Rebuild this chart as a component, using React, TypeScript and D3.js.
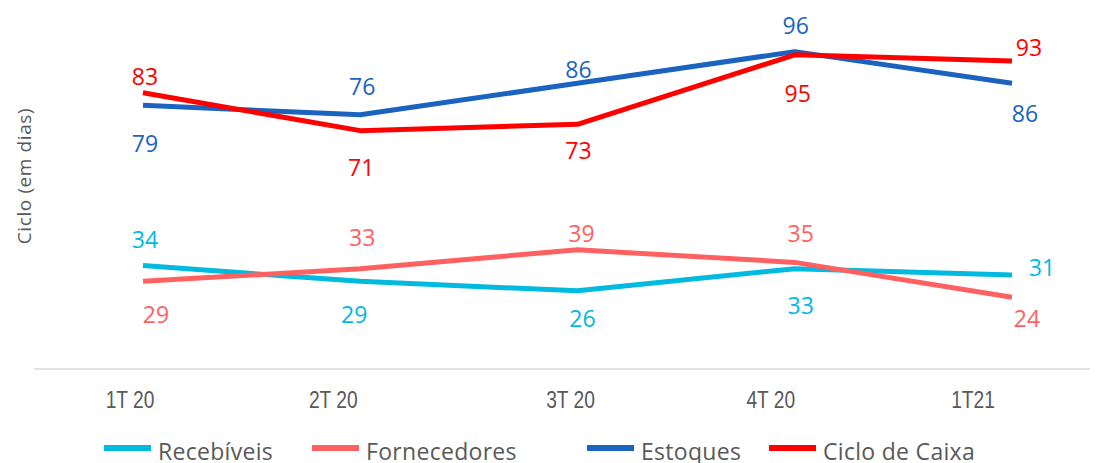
import { useEffect, useRef } from "react";
import * as d3 from "d3";

const W = 1109;
const H = 463;

const categories = ["1T 20", "2T 20", "3T 20", "4T 20", "1T21"];
const recebiveis   = [34, 29, 26, 33, 31];
const fornecedores = [29, 33, 39, 35, 24];
const estoques     = [79, 76, 86, 96, 86];
const cicloCaixa   = [83, 71, 73, 95, 93];

// label nudges (px) relative to each point
const recDx  = [2, -6, 5, 6, 30];
const recDy  = [-18, 42, 36, 45, 1];
const fornDx = [13, 2, 4, 6, 15];
const fornDy = [42, -23, -8, -20, 30];
const estDx  = [2, 2, 1, 1, 13];
const estDy  = [47, -20, -5, -18, 39];
const cicDx  = [2, 1, 1, 3, 17];
const cicDy  = [-8, 45, 35, 47, -5];
const tickDx = [-13, -27, -7, -24, -39];

const FONT = "'Open Sans', 'Segoe UI', sans-serif";
const TICK_FONT = "'Liberation Sans', Arial, sans-serif";
const GREY = "#595959";

export default function App() {
  const svgRef = useRef<SVGSVGElement>(null);

  useEffect(() => {
    if (!svgRef.current) return;
    const svg = d3.select(svgRef.current);
    svg.selectAll("*").remove();

    const x = d3.scalePoint<string>().domain(categories).range([143, 1012]);
    // two value axes (primary: Estoques / Ciclo, secondary: Recebíveis / Fornecedores)
    const yA = d3.scaleLinear().domain([0, 100]).range([355, 39]);
    const yB = d3.scaleLinear().domain([0, 100]).range([373, 57]);

    const series = [
      { name: "Recebíveis",     vals: recebiveis,   color: "#00BADF", y: yB, dx: recDx,  dy: recDy },
      { name: "Fornecedores",   vals: fornecedores, color: "#FF6161", y: yB, dx: fornDx, dy: fornDy },
      { name: "Estoques",       vals: estoques,     color: "#1A63BE", y: yA, dx: estDx,  dy: estDy },
      { name: "Ciclo de Caixa", vals: cicloCaixa,   color: "#FF0000", y: yA, dx: cicDx,  dy: cicDy },
    ];

    // baseline
    svg.append("line")
      .attr("x1", 34).attr("x2", 1090)
      .attr("y1", 369).attr("y2", 369)
      .attr("stroke", "#d9d9d9").attr("stroke-width", 1.5);

    // category labels (narrow face, squeezed horizontally)
    svg.append("g").selectAll("text")
      .data(categories)
      .join("text")
      .attr("transform", (d, i) => `translate(${(x(d) ?? 0) + tickDx[i]},408) scale(0.8,1)`)
      .attr("text-anchor", "middle")
      .attr("font-family", TICK_FONT)
      .attr("font-size", 24)
      .attr("fill", GREY)
      .text(d => d);

    // y title
    svg.append("text")
      .attr("transform", "translate(31,176) rotate(-90)")
      .attr("text-anchor", "middle")
      .attr("font-family", FONT)
      .attr("font-size", 19)
      .attr("letter-spacing", 0.6)
      .attr("fill", GREY)
      .text("Ciclo (em dias)");

    for (const s of series) {
      const line = d3.line<number>()
        .x((_, i) => x(categories[i]) ?? 0)
        .y(v => s.y(v));

      svg.append("path")
        .datum(s.vals)
        .attr("d", line)
        .attr("fill", "none")
        .attr("stroke", s.color)
        .attr("stroke-width", 5)
        .attr("stroke-linejoin", "round");
    }

    for (const s of series) {
      svg.append("g").selectAll("text")
        .data(s.vals)
        .join("text")
        .attr("x", (_, i) => (x(categories[i]) ?? 0) + s.dx[i])
        .attr("y", (v, i) => s.y(v) + s.dy[i])
        .attr("text-anchor", "middle")
        .attr("font-family", FONT)
        .attr("font-size", 23)
        .attr("fill", s.color)
        .text(v => v);
    }

    // legend
    const legendX = [104, 312, 587, 769];
    const lg = svg.append("g");
    series.forEach((s, i) => {
      lg.append("line")
        .attr("x1", legendX[i]).attr("x2", legendX[i] + 47)
        .attr("y1", 448).attr("y2", 448)
        .attr("stroke", s.color).attr("stroke-width", 6);
      lg.append("text")
        .attr("x", legendX[i] + 54)
        .attr("y", 460)
        .attr("font-family", FONT)
        .attr("font-size", 23)
        .attr("letter-spacing", 0.3)
        .attr("fill", GREY)
        .text(s.name);
    });
  }, []);

  return (
    <svg
      ref={svgRef}
      width={W}
      height={H}
      viewBox={`0 0 ${W} ${H}`}
      style={{ position: "absolute", left: 0, top: 0, background: "#fff", display: "block" }}
    />
  );
}
